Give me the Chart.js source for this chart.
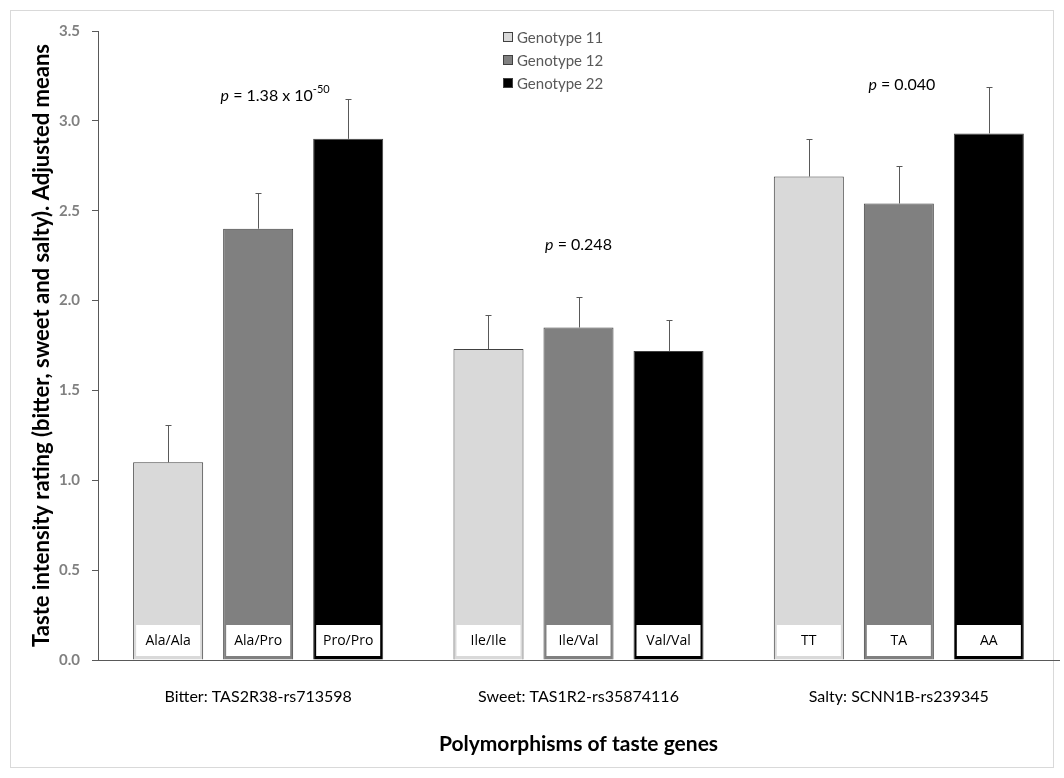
<!DOCTYPE html>
<html>
<head>
<meta charset="utf-8">
<script src="https://cdn.jsdelivr.net/npm/chart.js@4"></script>
<style>
  html, body { margin: 0; padding: 0; background: #ffffff; }
  canvas { display: block; }
</style>
</head>
<body>
<canvas id="c" width="1064" height="778"></canvas>
<script>
// Taste genes and the mean intensity rating for each genotype
const categories = ['Bitter: TAS2R38-rs713598', 'Sweet: TAS1R2-rs35874116', 'Salty: SCNN1B-rs239345'];
const seriesNames = ['Genotype 11', 'Genotype 12', 'Genotype 22'];

const genotype11 = [1.10, 1.73, 2.69];
const genotype12 = [2.40, 1.85, 2.54];
const genotype22 = [2.90, 1.72, 2.93];

// Upper error bar lengths
const error11 = [0.21, 0.19, 0.21];
const error12 = [0.20, 0.17, 0.21];
const error22 = [0.22, 0.17, 0.26];

// Genotype names shown at the foot of each bar
const alleles11 = ['Ala/Ala', 'Ile/Ile', 'TT'];
const alleles12 = ['Ala/Pro', 'Ile/Val', 'TA'];
const alleles22 = ['Pro/Pro', 'Val/Val', 'AA'];

// p-values per gene (mantissa, exponent)
const pMantissa = ['1.38 x 10', '0.248', '0.040'];
const pExponent = ['-50', '', ''];

const yTicks = [0, 0.5, 1.0, 1.5, 2.0, 2.5, 3.0, 3.5];

const FONT = 'Lato, "Open Sans", sans-serif';
Chart.defaults.font.family = FONT;

const errors = [error11, error12, error22];
const alleles = [alleles11, alleles12, alleles22];

// Upward-only error bars with a short cap
const errorBarPlugin = {
  id: 'errorBars',
  afterDatasetsDraw(chart) {
    const ctx = chart.ctx;
    const y = chart.scales.y;
    ctx.save();
    ctx.strokeStyle = '#595959';
    ctx.lineWidth = 1;
    chart.data.datasets.forEach((ds, i) => {
      const meta = chart.getDatasetMeta(i);
      meta.data.forEach((bar, j) => {
        const top = Math.round(y.getPixelForValue(ds.data[j] + errors[i][j])) + 0.5;
        const x = Math.round(bar.x) + 0.5;
        ctx.beginPath();
        ctx.moveTo(x, bar.y);
        ctx.lineTo(x, top);
        ctx.moveTo(x - 3, top);
        ctx.lineTo(x + 3, top);
        ctx.stroke();
      });
    });
    ctx.restore();
  }
};

// White name boxes inside the base of each bar
const alleleBoxPlugin = {
  id: 'alleleBoxes',
  afterDatasetsDraw(chart) {
    const ctx = chart.ctx;
    const base = chart.scales.y.getPixelForValue(0);
    ctx.save();
    ctx.font = '14px "Open Sans", sans-serif';
    ctx.textAlign = 'center';
    ctx.textBaseline = 'middle';
    chart.data.datasets.forEach((ds, i) => {
      const meta = chart.getDatasetMeta(i);
      meta.data.forEach((bar, j) => {
        const w = bar.width - 6;
        const h = 31;
        const bx = bar.x - w / 2;
        const by = base - 4 - h;
        ctx.fillStyle = '#ffffff';
        ctx.fillRect(bx, by, w, h);
        ctx.fillStyle = '#000000';
        ctx.fillText(alleles[i][j], bar.x, by + h / 2 + 1);
      });
    });
    ctx.restore();
  }
};

// p-value notes above each gene group
const pValuePlugin = {
  id: 'pValues',
  afterDraw(chart, args, opts) {
    const ctx = chart.ctx;
    const xs = chart.scales.x;
    const ys = chart.scales.y;
    ctx.save();
    ctx.fillStyle = '#000000';
    ctx.textBaseline = 'middle';
    ctx.textAlign = 'left';
    const mainFont = '16px ' + FONT;
    const italicFont = 'italic 16px ' + FONT;
    const supFont = '11px ' + FONT;
    pMantissa.forEach((m, i) => {
      const cx = xs.getPixelForValue(i) + opts.shift[i];
      const cy = ys.getPixelForValue(opts.level[i]);
      ctx.font = italicFont;
      const wp = ctx.measureText('p').width;
      ctx.font = mainFont;
      const rest = ' = ' + m;
      const wr = ctx.measureText(rest).width;
      ctx.font = supFont;
      const ws = pExponent[i] ? ctx.measureText(pExponent[i]).width : 0;
      let x = cx - (wp + wr + ws) / 2;
      ctx.font = italicFont;
      ctx.fillText('p', x, cy);
      x += wp;
      ctx.font = mainFont;
      ctx.fillText(rest, x, cy);
      x += wr;
      if (pExponent[i]) {
        ctx.font = supFont;
        ctx.fillText(pExponent[i], x, cy - 6);
      }
    });
    ctx.restore();
  }
};

// Stacked legend block near the top centre
const stackedLegendPlugin = {
  id: 'stackedLegend',
  afterDraw(chart, args, opts) {
    const ctx = chart.ctx;
    ctx.save();
    ctx.font = '15px ' + FONT;
    ctx.textBaseline = 'middle';
    ctx.textAlign = 'left';
    chart.data.datasets.forEach((ds, i) => {
      const cy = opts.top + i * opts.rowGap;
      ctx.fillStyle = ds.backgroundColor;
      ctx.fillRect(opts.left + 0.5, cy - 4.5, 9, 9);
      ctx.strokeStyle = '#404040';
      ctx.lineWidth = 1;
      ctx.strokeRect(opts.left + 0.5, cy - 4.5, 9, 9);
      ctx.fillStyle = '#595959';
      ctx.fillText(ds.label, opts.left + 14, cy + 1);
    });
    ctx.restore();
  }
};

// Thin frame around the whole figure
const framePlugin = {
  id: 'frame',
  beforeDraw(chart) {
    const ctx = chart.ctx;
    ctx.save();
    ctx.fillStyle = '#ffffff';
    ctx.fillRect(0, 0, chart.width, chart.height);
    ctx.strokeStyle = '#d9d9d9';
    ctx.lineWidth = 1;
    ctx.strokeRect(10.5, 10.5, chart.width - 21, chart.height - 21);
    ctx.restore();
  }
};

new Chart(document.getElementById('c'), {
  type: 'bar',
  data: {
    labels: categories,
    datasets: [
      { label: seriesNames[0], data: genotype11, backgroundColor: '#d9d9d9' },
      { label: seriesNames[1], data: genotype12, backgroundColor: '#808080' },
      { label: seriesNames[2], data: genotype22, backgroundColor: '#000000' }
    ].map(d => Object.assign(d, {
      borderColor: '#404040',
      borderWidth: 1,
      categoryPercentage: 0.843,
      barPercentage: 0.778
    }))
  },
  options: {
    responsive: false,
    animation: false,
    devicePixelRatio: 1,
    layout: { padding: { left: 0, right: 5, top: 31, bottom: 0 } },
    plugins: {
      legend: { display: false },
      tooltip: { enabled: false },
      pValues: { shift: [17, 0, 3], level: [3.14, 2.31, 3.20] },
      stackedLegend: { left: 503, top: 37, rowGap: 23 }
    },
    scales: {
      x: {
        afterFit(s) { s.height = 118; },
        grid: { display: true, drawOnChartArea: false, drawTicks: false },
        border: { display: true, color: '#595959', width: 1 },
        ticks: { color: '#000000', font: { size: 16 }, padding: 27 },
        title: {
          display: true,
          text: 'Polymorphisms of taste genes',
          color: '#000000',
          font: { size: 21, weight: 'bold' },
          padding: { top: 0, bottom: 21 }
        }
      },
      y: {
        min: 0,
        max: 3.5,
        afterFit(s) { s.width = 98; },
        afterBuildTicks(s) { s.ticks = yTicks.map(v => ({ value: v })); },
        grid: { drawOnChartArea: false, drawTicks: true, tickLength: 6, color: '#595959' },
        border: { display: true, color: '#595959', width: 1 },
        ticks: {
          color: '#808080',
          font: { size: 15, weight: 'bold' },
          padding: 12,
          callback: v => Number(v).toFixed(1)
        },
        title: {
          display: true,
          text: 'Taste intensity rating (bitter, sweet and salty). Adjusted means',
          color: '#000000',
          font: { size: 22, weight: 'bold' },
          padding: { top: 29, bottom: 0 }
        }
      }
    }
  },
  plugins: [framePlugin, errorBarPlugin, alleleBoxPlugin, pValuePlugin, stackedLegendPlugin]
});
</script>
</body>
</html>
